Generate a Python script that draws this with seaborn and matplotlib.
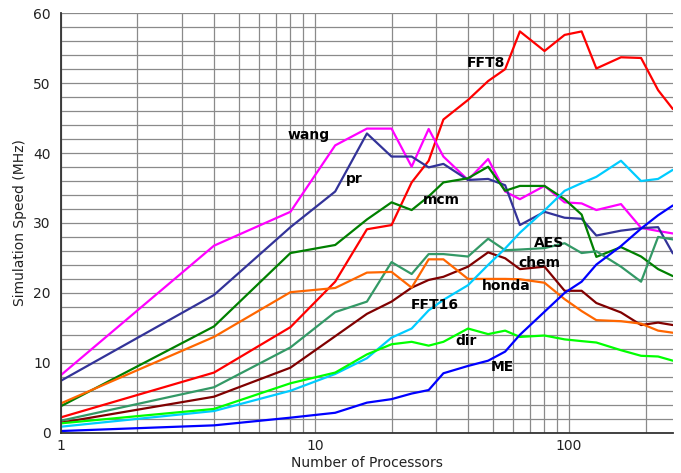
import numpy as np
import pandas as pd
import matplotlib
matplotlib.use("Agg")
import matplotlib.pyplot as plt
from matplotlib.ticker import MultipleLocator, LogLocator, FuncFormatter, NullFormatter
import seaborn as sns

# Processor counts (x axis)
processors = [1, 4, 8, 12, 16, 20, 24, 28, 32, 40, 48, 56, 64, 80, 96, 112, 128, 160, 192, 224, 256]

# Simulation speed (MHz) per design
fft8 = [2.2, 8.6, 15.1, 21.6, 29.1, 29.7, 35.8, 38.9, 44.8, 47.6, 50.3, 52.0, 57.4, 54.6, 56.9, 57.4, 52.1, 53.7, 53.6, 49.0, 46.3]
wang = [8.25, 26.75, 31.6, 41.1, 43.5, 43.5, 38.05, 43.45, 39.5, 36.15, 39.15, 34.5, 33.4, 35.3, 32.95, 32.8, 31.85, 32.7, 29.3, 28.85, 28.5]
pr = [7.44, 19.7, 29.4, 34.5, 42.8, 39.5, 39.5, 37.95, 38.45, 36.15, 36.3, 35.4, 29.7, 31.6, 30.75, 30.6, 28.2, 28.9, 29.25, 29.4, 25.65]
mcm = [3.8, 15.2, 25.7, 26.85, 30.5, 32.95, 31.85, 33.8, 35.8, 36.4, 38.05, 34.6, 35.3, 35.3, 33.4, 31.2, 25.15, 26.55, 25.2, 23.4, 22.4]
aes = [1.72, 6.5, 12.2, 17.25, 18.75, 24.4, 22.7, 25.55, 25.55, 25.2, 27.75, 26.1, 26.2, 26.4, 27.1, 25.7, 25.95, 23.75, 21.6, 28.0, 27.65]
chem = [1.43, 5.15, 9.3, 13.8, 17.0, 18.75, 20.75, 21.85, 22.3, 23.75, 25.8, 24.95, 23.4, 23.75, 20.3, 20.3, 18.55, 17.2, 15.4, 15.75, 15.4]
honda = [4.2, 13.7, 20.1, 20.7, 22.9, 23.0, 20.75, 24.8, 24.8, 22.0, 22.0, 22.0, 21.95, 21.45, 19.1, 17.4, 16.1, 15.95, 15.6, 14.6, 14.3]
fft16 = [0.86, 3.1, 6.0, 8.4, 10.65, 13.6, 14.9, 17.5, 19.0, 21.1, 24.0, 26.35, 28.6, 31.8, 34.6, 35.7, 36.6, 38.9, 36.0, 36.3, 37.6]
dir_ = [1.34, 3.4, 7.07, 8.6, 11.2, 12.65, 13.0, 12.45, 13.0, 14.9, 14.1, 14.6, 13.7, 13.9, 13.35, 13.1, 12.9, 11.8, 11.0, 10.9, 10.3]
me = [0.24, 1.05, 2.15, 2.85, 4.3, 4.8, 5.6, 6.1, 8.5, 9.55, 10.3, 11.6, 14.0, 17.3, 20.0, 21.6, 24.05, 26.7, 29.2, 31.1, 32.5]

series = {
    "FFT8": fft8, "wang": wang, "pr": pr, "mcm": mcm, "AES": aes,
    "chem": chem, "honda": honda, "FFT16": fft16, "dir": dir_, "ME": me,
}

colors = {
    "FFT8": "#ff0000", "wang": "#ff00ff", "pr": "#333399", "mcm": "#008000",
    "AES": "#339966", "chem": "#800000", "honda": "#ff6600", "FFT16": "#00ccff",
    "dir": "#00ff00", "ME": "#0000ff",
}

# Inline label positions (processors, MHz)
label_pos = {
    "FFT8": (46.9, 52.9), "wang": (9.47, 42.6), "pr": (14.3, 36.3), "mcm": (31.4, 33.3),
    "AES": (83.2, 27.1), "chem": (76.6, 24.3), "honda": (56.8, 21.0), "FFT16": (29.7, 18.2),
    "dir": (39.4, 13.1), "ME": (54.7, 9.4),
}

df = pd.DataFrame(
    [(p, v, name) for name, vals in series.items() for p, v in zip(processors, vals)],
    columns=["Processors", "Speed", "Design"],
)

sns.set_style("white")
plt.rcParams["font.family"] = ["DejaVu Sans"]

fig = plt.figure(figsize=(6.81, 4.73), dpi=100)
ax = fig.add_axes([0.0896, 0.0852, 0.8984, 0.8868])

sns.lineplot(data=df, x="Processors", y="Speed", hue="Design", palette=colors,
             hue_order=list(series.keys()), linewidth=1.6, ax=ax, legend=False,
             estimator=None, sort=False)

ax.set_xscale("log")
ax.set_xlim(1, 256)
ax.set_ylim(0, 60)

ax.xaxis.set_major_locator(LogLocator(base=10))
ax.xaxis.set_minor_locator(LogLocator(base=10, subs=np.arange(2, 10)))
ax.xaxis.set_major_formatter(FuncFormatter(lambda v, _: f"{v:g}"))
ax.xaxis.set_minor_formatter(NullFormatter())
ax.yaxis.set_major_locator(MultipleLocator(10))
ax.yaxis.set_minor_locator(MultipleLocator(2))

ax.grid(which="both", color="#8a8a8a", linewidth=0.9)
ax.set_axisbelow(True)

for side in ["top", "right"]:
    ax.spines[side].set_visible(False)
for side in ["left", "bottom"]:
    ax.spines[side].set_color("#333333")
    ax.spines[side].set_linewidth(1.3)

ax.tick_params(which="major", direction="out", length=4, width=1, color="#333333",
               labelsize=10, labelcolor="#222222")
ax.tick_params(axis="x", which="major", length=3, pad=1.5)
ax.tick_params(which="minor", length=0)

ax.set_xlabel("Number of Processors", fontsize=10, color="#222222", labelpad=2)
ax.set_ylabel("Simulation Speed (MHz)", fontsize=10, color="#222222", labelpad=4)

for name, (lx, ly) in label_pos.items():
    ax.text(lx, ly, name, fontsize=10, fontweight="bold", color="black",
            ha="center", va="center")

fig.savefig("out.png", dpi=100)
